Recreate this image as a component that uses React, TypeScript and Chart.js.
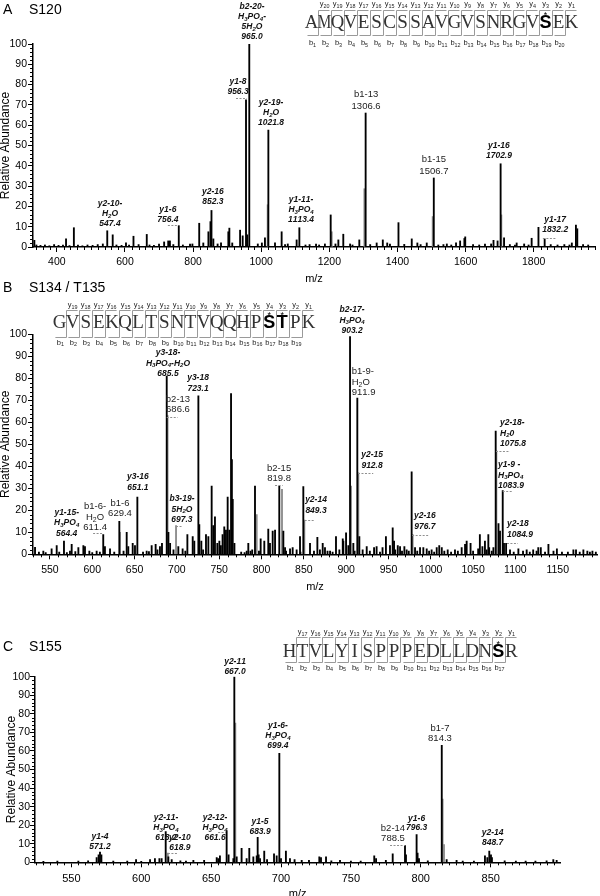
import React, { useEffect, useRef } from "react";
import { Chart, registerables } from "chart.js";

Chart.register(...registerables);

const SANS = "'Liberation Sans', Arial, Helvetica, sans-serif";
const NARROW = "'Liberation Sans Narrow', 'Liberation Sans', Arial, sans-serif";
const SERIF = "'Liberation Serif', 'Times New Roman', serif";

type Peak = [number, number];
type Ann = { t: string[]; mz: number; lv: number; bi: boolean; left?: boolean; dash?: [number, number, number] };

// ---------------- Panel A (S120) ----------------
const peaksA: Peak[] = [
  [334, 3.3], [427, 4], [450, 9.5], [548, 8], [564, 6], [603, 2], [625, 5.3], [664, 6.2], [715, 2.5], [727, 3], [732, 3],
  [758, 10.5], [791, 1.5], [818, 11.7], [845, 7.5], [851, 12.5], [854, 18], [859.5, 4], [903.5, 7.5], [906.5, 9.3],
  [938, 8.3], [945.6, 5.5], [955.4, 72.5], [959, 6], [965, 100], [1011, 4.5], [1021, 57.6], [1040.5, 2], [1060, 7.5],
  [1104, 3.5], [1112, 9.5], [1161, 1.5], [1187, 1.5], [1204, 15.8], [1226.5, 3.5], [1241, 6.3], [1261, 1.5], [1288, 3.5],
  [1306.6, 66], [1339, 2], [1357, 3.5], [1370, 2], [1403, 12], [1442, 4], [1458.5, 2], [1486, 2], [1506.7, 34],
  [1545, 1.5], [1572, 2], [1584, 3], [1596.5, 4.2], [1599, 5], [1657, 1.5], [1682, 3.3], [1694, 3], [1702.9, 41],
  [1713, 4.5], [1750, 2], [1772, 1.5], [1794, 4.3], [1814, 9.7], [1832.2, 4], [1912, 2], [1924, 10.8], [1928, 9],
];
const noiseA: Peak[] = [
  [340, 1], [352, 0.8], [365, 1], [378, 0.6], [392, 1.2], [405, 0.8], [418, 1], [437, 0.7], [462, 1], [475, 0.6],
  [490, 1], [505, 0.8], [520, 1.2], [535, 1.5], [575, 1], [590, 0.8], [612, 1], [640, 1.2], [672, 1], [685, 0.8],
  [700, 1.5], [742, 1.2], [770, 1], [798, 1.5], [830, 2], [872, 1.5], [882, 2], [915, 2], [990, 1.5], [1002, 2],
  [1070, 1.2], [1078, 1.5], [1130, 1], [1142, 1.2], [1170, 1], [1218, 1.5], [1268, 1], [1320, 1.2], [1378, 1.5],
  [1420, 1.3], [1468, 1.2], [1520, 1], [1535, 1.2], [1558, 1], [1622, 1.2], [1640, 1], [1675, 1.5], [1730, 1.2],
  [1745, 1], [1785, 1], [1850, 1.2], [1870, 1], [1890, 1.2], [1905, 1], [1945, 1.2], [1960, 1],
];
const grayA: Peak[] = [[1019, 20.8], [1207, 7.5], [1303, 28.7], [1503.5, 15], [1705, 15.8]];
const annA: Ann[] = [
  { t: ["b2-20-", "H_3PO_4-", "5H_2O", "965.0"], mz: 973, lv: 118.2, bi: true },
  { t: ["y1-8", "956.3"], mz: 932, lv: 81.3, bi: true, dash: [926, 958, 73.4] },
  { t: ["y2-19-", "H_2O", "1021.8"], mz: 1029, lv: 70.9, bi: true },
  { t: ["b1-13", "1306.6"], mz: 1308, lv: 75.4, bi: false },
  { t: ["b1-15", "1506.7"], mz: 1507, lv: 43.3, bi: false },
  { t: ["y1-16", "1702.9"], mz: 1698, lv: 49.8, bi: true },
  { t: ["y1-17", "1832.2"], mz: 1863, lv: 13.3, bi: true, dash: [1827, 1868, 4.4] },
  { t: ["y1-11-", "H_3PO_4", "1113.4"], mz: 1117, lv: 23.2, bi: true },
  { t: ["y2-16", "852.3"], mz: 858, lv: 27.1, bi: true },
  { t: ["y1-6", "756.4"], mz: 726, lv: 18.2, bi: true, dash: [726, 756, 10.8] },
  { t: ["y2-10-", "H_2O", "547.4"], mz: 556, lv: 21.2, bi: true },
];
const seqA = "AMQVESCSSAVGVSNRGVSEK";
const phosA = [18];
const xTicksA = { min: 330, max: 1980, step: 200, minor: 20 };

// ---------------- Panel B (S134 / T135) ----------------
const peaksB: Peak[] = [
  [532.4, 3.2], [542.2, 1.5], [552, 2.5], [558, 4], [566.6, 6], [573.7, 1.5], [575.7, 4.5], [583.6, 3], [589.5, 4],
  [591.4, 3.5], [596.6, 1.5], [605.2, 1.5], [613, 9], [615, 3.5], [621, 2.5], [632, 15], [640.7, 10], [642.6, 3.5],
  [647.8, 5], [650.5, 4], [653.3, 26], [664.3, 1.5], [670.2, 4], [674.9, 4.5], [680, 3.5], [682.4, 5], [688, 81],
  [690, 10], [692, 5], [701.7, 3.5], [706.8, 2.5], [712.4, 9], [718.7, 8], [720.6, 6], [725.4, 72], [726.5, 13.5],
  [728.9, 6], [734.4, 9], [737.2, 8], [741.1, 31], [743, 13], [745, 17], [747.8, 5], [750.2, 6], [752, 4], [754, 9],
  [756, 12.5], [758, 11], [760, 26], [762, 11], [764, 73], [765, 43], [766, 25], [768, 5], [782.5, 1.5], [784.4, 5],
  [789, 2], [792.3, 31], [799, 7], [803.3, 6], [808, 11.5], [810, 5], [813.2, 10.5], [816, 11], [821, 31],
  [825.8, 10.5], [827.8, 3], [833.7, 2.5], [836.8, 3], [841.5, 2], [845.5, 8], [849.4, 30.8], [857.3, 5], [866, 7.7],
  [872.3, 5], [875, 3], [881, 1.5], [888, 8], [896, 7], [896.7, 6], [899.9, 9.8], [902.6, 4], [904.6, 99], [908.5, 5],
  [913.2, 71], [915.6, 8], [919.5, 2], [924.3, 3.5], [933, 3], [936, 3.5], [943, 3], [947, 8], [951.8, 4], [955, 12],
  [956.6, 6], [961, 4], [963.7, 3.5], [968.8, 3.5], [971.5, 2], [977.4, 37.5], [981.4, 3], [987.3, 3], [991.2, 3],
  [995.2, 2.5], [1001, 2], [1007, 3], [1010, 4], [1013, 3], [1020, 2], [1028.6, 2], [1036.5, 3], [1040.5, 4.5],
  [1042.4, 6], [1047, 5], [1056, 2.5], [1058, 9], [1061, 3.5], [1064, 6], [1068, 9], [1069, 3], [1074, 3],
  [1076.7, 56], [1080, 14], [1081.8, 10.5], [1085, 29], [1086.5, 5], [1089, 5], [1093.6, 2], [1103.5, 2.5],
  [1113.3, 2], [1121, 2], [1127, 3], [1130, 3], [1139, 4.5], [1149, 2.5], [1168.5, 2], [1171.6, 2], [1180.3, 2],
  [1185, 1.5], [1191, 1.5],
];
const noiseB: Peak[] = [
  [537, 1], [545, 0.8], [561, 1], [570, 0.8], [580, 1.2], [600, 0.8], [609, 1], [626, 1], [637, 1.5], [660, 1],
  [667, 1.2], [677, 2], [696, 2], [710, 1.5], [731, 2], [776, 1], [780, 0.8], [787, 1.5], [797, 1.5], [829, 1.5],
  [846, 1], [862, 1.5], [869, 2], [878, 1.5], [884, 1], [892, 2], [910, 1.5], [928, 1.5], [940, 1], [958, 2],
  [966, 1.5], [974, 1.5], [984, 1.5], [998, 1.5], [1004, 1], [1016, 1.5], [1024, 1], [1032, 1.5], [1050, 1.5],
  [1066, 2], [1072, 1.5], [1098, 1], [1109, 1.5], [1117, 1], [1125, 1.5], [1135, 1], [1145, 1.5], [1155, 1],
  [1162, 1], [1176, 1], [1188, 1], [1195, 1],
];
const grayB: Peak[] = [
  [632.8, 10], [689, 63], [699, 13], [794.3, 18], [824.2, 29.5], [850.6, 15.6], [905.8, 31], [914.4, 37],
  [978.6, 9], [1077.5, 47],
];
const annB: Ann[] = [
  { t: ["y1-15-", "H_3PO_4", "564.4"], mz: 569.8, lv: 18.9, bi: true },
  { t: ["b1-6-", "H_2O", "611.4"], mz: 603.3, lv: 21.6, bi: false, dash: [601, 612.7, 9.7] },
  { t: ["b1-6", "629.4"], mz: 632.8, lv: 23.3, bi: false },
  { t: ["y3-16", "651.1"], mz: 654, lv: 35.1, bi: true },
  { t: ["b3-19-", "5H_2O", "697.3"], mz: 706, lv: 25.1, bi: true, dash: [699, 706, 13] },
  { t: ["b2-15", "819.8"], mz: 820.7, lv: 39.2, bi: false, dash: [816, 825, 31.5] },
  { t: ["y3-18-", "H_3PO_4-H_2O", "685.5"], mz: 689.5, lv: 91.5, bi: true },
  { t: ["y3-18", "723.1"], mz: 725, lv: 80.1, bi: true },
  { t: ["b2-13", "686.6"], mz: 701.3, lv: 70.6, bi: false, dash: [688, 701, 62.5] },
  { t: ["b2-17-", "H_3PO_4", "903.2"], mz: 907, lv: 111, bi: true },
  { t: ["b1-9-", "H_2O", "911.9"], mz: 906.6, lv: 83, bi: false, left: true },
  { t: ["y2-18-", "H_20", "1075.8"], mz: 1081.8, lv: 59.7, bi: true, left: true, dash: [1077, 1093.6, 47.1] },
  { t: ["y2-15", "912.8"], mz: 930.6, lv: 45.1, bi: true, dash: [914, 932, 37] },
  { t: ["y2-14", "849.3"], mz: 864.4, lv: 24.7, bi: true, dash: [851, 863, 15.6] },
  { t: ["y2-16", "976.7"], mz: 993, lv: 17.4, bi: true, dash: [978, 997, 8.8] },
  { t: ["y1-9 -", "H_3PO_4", "1083.9"], mz: 1079.5, lv: 40.6, bi: true, left: true, dash: [1085, 1097, 28.9] },
  { t: ["y2-18", "1084.9"], mz: 1090, lv: 13.8, bi: true, left: true, dash: [1090, 1103, 5.3] },
];
const seqB = "GVSEKQLTSNTVQQHPSTPK";
const phosB = [16, 17];
const xTicksB = { min: 530, max: 1196.4, step: 50, minor: 10 };

// ---------------- Panel C (S155) ----------------
const peaksC: Peak[] = [
  [568.1, 2.5], [569.5, 4], [570.5, 5.5], [571.5, 4], [596.3, 1.5], [606.3, 1.5], [609.8, 2], [613, 2], [614.6, 2],
  [617.5, 16.5], [619.4, 3], [621.8, 1.5], [637.3, 1], [654, 2.5], [655.1, 2], [656.3, 3.5], [661.1, 17], [662.5, 4],
  [665.9, 2], [666.6, 100], [668.3, 3], [671.8, 7.5], [675.4, 2], [677.3, 7.5], [680.2, 3], [682.6, 3.5], [683.3, 13.5],
  [684, 4], [685, 2], [688, 6], [695, 4.5], [696.9, 3.5], [698.8, 58.7], [700, 2], [703.5, 6], [706.4, 2], [709.7, 1.5],
  [714.8, 1], [727.4, 3], [728.6, 2.5], [732.2, 3], [742.2, 1], [766.7, 3.5], [768, 2], [779.9, 4.5], [788.7, 9],
  [789.4, 4], [797, 15], [797.7, 5], [798.7, 2], [815, 63], [818.5, 1.5], [825.6, 1], [845.9, 3.5], [847.6, 2.5],
  [849, 6], [850.2, 4], [850.9, 2.5], [894.8, 1.5], [897.2, 1],
];
const noiseC: Peak[] = [
  [530, 0.5], [540, 0.7], [555, 0.6], [562, 0.8], [580, 0.6], [590, 0.7], [600, 0.5], [628, 0.8], [632, 0.6],
  [645, 1], [690, 1.5], [720, 1], [736, 0.8], [750, 0.7], [757, 0.6], [775, 1], [805, 0.8], [830, 0.7], [838, 0.6],
  [860, 0.8], [868, 0.6], [875, 0.7], [882, 0.6], [890, 0.8],
];
const grayC: Peak[] = [[619, 5], [667.3, 75], [815.6, 34], [816.6, 9.5]];
const annC: Ann[] = [
  { t: ["y2-11", "667.0"], mz: 667.1, lv: 108.1, bi: true },
  { t: ["y1-6-", "H_3PO_4", "699.4"], mz: 697.8, lv: 73.4, bi: true },
  { t: ["b1-7", "814.3"], mz: 813.7, lv: 72.4, bi: false },
  { t: ["y1-4", "571.2"], mz: 570.5, lv: 13.8, bi: true },
  { t: ["y2-11-", "H_3PO_4", "618.2"], mz: 617.7, lv: 23.9, bi: true },
  { t: ["y2-10", "618.9"], mz: 627.7, lv: 13.1, bi: true, dash: [619.1, 626.3, 5.2] },
  { t: ["y2-12-", "H_3PO_4", "661.6"], mz: 652.8, lv: 23.9, bi: true, dash: [655, 660.6, 16.5] },
  { t: ["y1-5", "683.9"], mz: 685, lv: 21.9, bi: true },
  { t: ["y1-6", "796.3"], mz: 797, lv: 23.7, bi: true },
  { t: ["b2-14", "788.5"], mz: 780.1, lv: 18.5, bi: false, dash: [778, 788.7, 9.3] },
  { t: ["y2-14", "848.7"], mz: 851.4, lv: 15.8, bi: true },
];
const seqC = "HTVLYISPPPEDLLDNSR";
const phosC = [16];
const xTicksC = { min: 524, max: 899.8, step: 50, minor: 5 };

// ---------------- layout ----------------
interface Panel {
  tag: string; title: string; headY: number;
  black: Peak[]; gray: Peak[]; anns: Ann[]; seq: string; phos: number[];
  xt: { min: number; max: number; step: number; minor: number };
  top: number; height: number; plotTop: number; plotBottom: number; plotLeft: number; rightPad: number;
  tickPad: number; tickSize: number; xTitlePad: number; yTitlePad: number; yTickPad: number;
  lhB: number; lhR: number;
  sx0: number; sw: number; sBase: number; sYLab: number; sTop: number; sBot: number; sBLab: number;
}

const PANELS: Panel[] = [
  {
    tag: "A", title: "S120", headY: 13.5, black: [...peaksA, ...noiseA], gray: grayA, anns: annA, seq: seqA, phos: phosA,
    xt: xTicksA, top: 0, height: 290, plotTop: 44, plotBottom: 247, plotLeft: 33, rightPad: 5,
    tickPad: 4, tickSize: 10.5, xTitlePad: 6, yTitlePad: 0, yTickPad: 1, lhB: 10, lhR: 12,
    sx0: 305, sw: 13, sBase: 28, sYLab: 4, sTop: 10, sBot: 35, sBLab: 43,
  },
  {
    tag: "B", title: "S134 / T135", headY: 292, black: [...peaksB, ...noiseB], gray: grayB, anns: annB, seq: seqB, phos: phosB,
    xt: xTicksB, top: 280, height: 320, plotTop: 334.3, plotBottom: 554.3, plotLeft: 33, rightPad: 3,
    tickPad: 5, tickSize: 10.5, xTitlePad: 7.5, yTitlePad: 0, yTickPad: 1, lhB: 10.3, lhR: 10.5,
    sx0: 53, sw: 13.1, sBase: 327.5, sYLab: 305, sTop: 310, sBot: 337, sBLab: 342.5,
  },
  {
    tag: "C", title: "S155", headY: 651, black: [...peaksC, ...noiseC], gray: grayC, anns: annC, seq: seqC, phos: phosC,
    xt: xTicksC, top: 600, height: 300, plotTop: 676.7, plotBottom: 862.3, plotLeft: 35, rightPad: 39.7,
    tickPad: 5, tickSize: 11, xTitlePad: 1, yTitlePad: 5.5, yTickPad: 0, lhB: 9.8, lhR: 10.5,
    sx0: 283, sw: 13.05, sBase: 657, sYLab: 632, sTop: 637, sBot: 662, sBLab: 667.5,
  },
];

// ---------------- drawing helpers ----------------
function parseRich(text: string) {
  const segs: { s: string; sub: boolean }[] = [];
  for (let i = 0; i < text.length; i++) {
    if (text[i] === "_" && i + 1 < text.length) {
      segs.push({ s: text[i + 1], sub: true });
      i++;
    } else segs.push({ s: text[i], sub: false });
  }
  return segs;
}

function drawRich(ctx: CanvasRenderingContext2D, text: string, x: number, y: number, size: number, style: string,
  family: string, align: "left" | "center", color: string) {
  const segs = parseRich(text);
  const mf = `${style} ${size}px ${family}`.trim();
  const sf = `${style} ${(size * 0.72).toFixed(2)}px ${family}`.trim();
  let w = 0;
  const widths = segs.map((sg) => {
    ctx.font = sg.sub ? sf : mf;
    const m = ctx.measureText(sg.s).width;
    w += m;
    return m;
  });
  let cx = align === "left" ? x : x - w / 2;
  ctx.fillStyle = color;
  ctx.textBaseline = "middle";
  ctx.textAlign = "left";
  segs.forEach((sg, i) => {
    ctx.font = sg.sub ? sf : mf;
    ctx.fillText(sg.s, cx, y + (sg.sub ? size * 0.28 : 0));
    cx += widths[i];
  });
}

const subDigits = (n: number) => String(n).split("").map((d) => "_" + d).join("");

function drawSequence(ctx: CanvasRenderingContext2D, p: Panel) {
  const off = p.top;
  const n = p.seq.length;
  const w = p.sw;
  const top = Math.round(p.sTop - off) + 0.5;
  const bot = Math.round(p.sBot - off) + 0.5;
  ctx.save();
  ctx.strokeStyle = "#9a9a9a";
  ctx.lineWidth = 1;
  for (let k = 1; k < n; k++) {
    const xb = Math.round(p.sx0 + k * w) + 0.5;
    ctx.beginPath();
    ctx.moveTo(xb + w - 2, top);
    ctx.lineTo(xb, top);
    ctx.lineTo(xb, bot);
    ctx.lineTo(xb - w + 2, bot);
    ctx.stroke();
    drawRich(ctx, "y" + subDigits(n - k), xb + w / 2 - 0.5, p.sYLab - off, 7.5, "", SANS, "center", "#222");
    drawRich(ctx, "b" + subDigits(k), xb - w / 2 + 0.5, p.sBLab - off, 7.5, "", SANS, "center", "#222");
  }
  ctx.textAlign = "center";
  ctx.textBaseline = "alphabetic";
  for (let i = 0; i < n; i++) {
    const cx = p.sx0 + (i + 0.5) * w;
    const base = p.sBase - off;
    if (p.phos.includes(i)) {
      ctx.fillStyle = "#000";
      ctx.font = `bold 18px ${SANS}`;
      ctx.fillText(p.seq[i], cx, base, w + 1);
      ctx.font = `9px ${SANS}`;
      ctx.fillText("*", cx, base - 10);
    } else {
      ctx.fillStyle = "#333";
      ctx.font = `19px ${SERIF}`;
      ctx.fillText(p.seq[i], cx, base, w + 0.5);
    }
  }
  ctx.restore();
}

function decoPlugin(p: Panel) {
  return {
    id: "deco" + p.tag,
    afterDraw(chart: any) {
      const ctx: CanvasRenderingContext2D = chart.ctx;
      const xs = chart.scales.x;
      const ys = chart.scales.y;
      const ca = chart.chartArea;
      const off = p.top;
      ctx.save();
      // minor ticks
      ctx.strokeStyle = "#000";
      ctx.lineWidth = 1;
      ctx.beginPath();
      for (let v = Math.ceil(p.xt.min / p.xt.minor) * p.xt.minor; v <= p.xt.max; v += p.xt.minor) {
        if (Math.abs(v % p.xt.step) < 1e-6) continue;
        const x = Math.round(xs.getPixelForValue(v)) + 0.5;
        ctx.moveTo(x, ca.bottom);
        ctx.lineTo(x, ca.bottom + 3);
      }
      for (let v = 2; v < 100; v += 2) {
        if (v % 10 === 0) continue;
        const y = Math.round(ys.getPixelForValue(v)) + 0.5;
        ctx.moveTo(ca.left - 3, y);
        ctx.lineTo(ca.left, y);
      }
      ctx.stroke();

      // annotations
      for (const a of p.anns) {
        const x = xs.getPixelForValue(a.mz);
        const y0 = ys.getPixelForValue(a.lv);
        const lh = a.bi ? p.lhB : p.lhR;
        a.t.forEach((line, i) => {
          if (a.bi) drawRich(ctx, line, x, y0 + i * lh, 8.5, "italic bold", SANS, a.left ? "left" : "center", "#111");
          else drawRich(ctx, line, x, y0 + i * lh, 9.5, "", NARROW, a.left ? "left" : "center", "#222");
        });
        if (a.dash) {
          ctx.save();
          ctx.strokeStyle = "#8f8f8f";
          ctx.lineWidth = 1;
          ctx.setLineDash([2, 1.5]);
          const yd = Math.round(ys.getPixelForValue(a.dash[2])) + 0.5;
          ctx.beginPath();
          ctx.moveTo(xs.getPixelForValue(a.dash[0]), yd);
          ctx.lineTo(xs.getPixelForValue(a.dash[1]), yd);
          ctx.stroke();
          ctx.restore();
        }
      }

      // heading
      ctx.fillStyle = "#000";
      ctx.font = `14px ${SANS}`;
      ctx.textAlign = "left";
      ctx.textBaseline = "alphabetic";
      ctx.fillText(p.tag, 3, p.headY - off);
      ctx.fillText(p.title, 29, p.headY - off);

      drawSequence(ctx, p);
      ctx.restore();
    },
  };
}

function buildConfig(p: Panel): any {
  const toXY = (arr: Peak[]) => arr.map(([x, y]) => ({ x, y }));
  return {
    type: "bar",
    data: {
      datasets: [
        { data: toXY(p.black), backgroundColor: "#000", barThickness: 1.2, grouped: false, borderWidth: 0 },
        { data: toXY(p.gray), backgroundColor: "#8c8c8c", barThickness: 1.2, grouped: false, borderWidth: 0 },
      ],
    },
    options: {
      animation: false,
      responsive: false,
      maintainAspectRatio: false,
      devicePixelRatio: 1,
      events: [],
      layout: { padding: { top: p.plotTop - p.top, right: p.rightPad, bottom: 0, left: 0 } },
      plugins: { legend: { display: false }, tooltip: { enabled: false } },
      scales: {
        x: {
          type: "linear",
          min: p.xt.min,
          max: p.xt.max,
          offset: false,
          grid: { display: true, drawOnChartArea: false, drawTicks: true, tickLength: 5, color: "#000", offset: false },
          border: { display: true, color: "#000", width: 1.5 },
          ticks: {
            stepSize: p.xt.step,
            includeBounds: false,
            autoSkip: false,
            maxRotation: 0,
            padding: p.tickPad,
            color: "#000",
            font: { family: SANS, size: p.tickSize },
            callback: (v: number) => String(v),
          },
          title: {
            display: true,
            text: "m/z",
            color: "#000",
            font: { family: NARROW, size: 11, lineHeight: 1 },
            padding: { top: 0, bottom: p.xTitlePad },
          },
          afterFit: (s: any) => {
            s.height = p.top + p.height - p.plotBottom;
          },
        },
        y: {
          type: "linear",
          min: 0,
          max: 100,
          grid: { display: true, drawOnChartArea: false, drawTicks: true, tickLength: 5, color: "#000" },
          border: { display: true, color: "#000", width: 1.5 },
          ticks: {
            stepSize: 10,
            padding: p.yTickPad,
            color: "#000",
            font: { family: SANS, size: 10.5 },
            callback: (v: number) => String(v),
          },
          title: {
            display: true,
            text: "Relative Abundance",
            color: "#000",
            font: { family: SANS, size: 12, lineHeight: 1 },
            padding: { top: p.yTitlePad, bottom: 0 },
          },
          afterFit: (s: any) => {
            s.width = p.plotLeft;
          },
        },
      },
    },
    plugins: [decoPlugin(p)],
  };
}

function PanelChart({ p }: { p: Panel }) {
  const ref = useRef<HTMLCanvasElement>(null);
  useEffect(() => {
    if (!ref.current) return;
    const chart = new Chart(ref.current, buildConfig(p));
    return () => chart.destroy();
  }, [p]);
  return (
    <canvas
      ref={ref}
      width={600}
      height={p.height}
      style={{ position: "absolute", left: 0, top: p.top, width: 600, height: p.height }}
    />
  );
}

export default function App() {
  return (
    <div
      style={{ position: "absolute", left: 0, top: 0, width: 600, height: 896, overflow: "hidden", background: "#fff" }}
    >
      {PANELS.map((p) => (
        <PanelChart key={p.tag} p={p} />
      ))}
    </div>
  );
}
